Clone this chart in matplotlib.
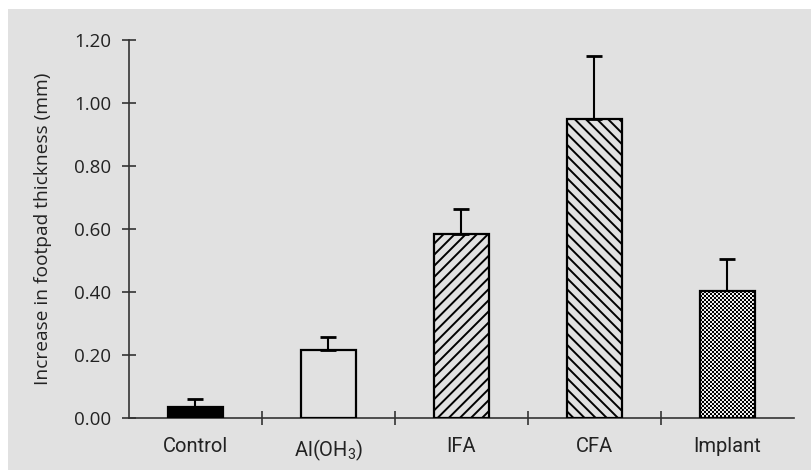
import matplotlib
matplotlib.use('Agg')
import matplotlib.pyplot as plt
import numpy as np
from matplotlib.patches import Rectangle

categories = ['Control', 'Al(OH$_3$)', 'IFA', 'CFA', 'Implant']
means = [0.035, 0.215, 0.585, 0.950, 0.403]
errors = [0.025, 0.042, 0.078, 0.198, 0.102]
yticks = [0.0, 0.2, 0.4, 0.6, 0.8, 1.0, 1.2]
ylabel = 'Increase in footpad thickness (mm)'

plt.rcParams['font.family'] = ['Open Sans', 'DejaVu Sans']
plt.rcParams['mathtext.fontset'] = 'custom'
plt.rcParams['mathtext.rm'] = 'Roboto'
plt.rcParams['mathtext.it'] = 'Roboto'
plt.rcParams['mathtext.default'] = 'rm'
plt.rcParams['hatch.linewidth'] = 1.4

fig = plt.figure(figsize=(8.12, 4.70), dpi=100)
fig.patch.set_facecolor('white')
bg = Rectangle((8/812, 0), 1 - 8/812, 1 - 9/470, transform=fig.transFigure,
               facecolor='#e1e1e1', edgecolor='none', zorder=-10)
fig.add_artist(bg)
ax = fig.add_axes([129/812, 1 - 418/470, 665/812, (418 - 40)/470])
ax.set_zorder(1)
ax.set_facecolor('none')

x = np.arange(len(categories))
faces = ['black', 'none', 'none', 'none', 'none']
hatches = [None, None, '///', '\\\\\\', None]
bars = ax.bar(x, means, width=0.42, color=faces, edgecolor='black', linewidth=1.6, zorder=3)
for b, h in zip(bars, hatches):
    if h:
        b.set_hatch(h)
ax.errorbar(x, means, yerr=[np.zeros(len(errors)), errors], fmt='none', ecolor='black',
            elinewidth=1.5, capsize=5.5, capthick=2, zorder=2)

ax.set_xlim(-0.5, len(categories) - 0.5)
ax.set_ylim(0, 1.2)

# checkerboard fill for the Implant bar (2-px cells)
fig.canvas.draw()
b = bars[4]
x0, w, hgt = b.get_x(), b.get_width(), b.get_height()
p0 = ax.transData.transform((x0, 0))
p1 = ax.transData.transform((x0 + w, hgt))
wpx = int(round(abs(p1[0] - p0[0])))
hpx = int(round(abs(p1[1] - p0[1])))
yy, xx = np.indices((hpx, wpx))
board = np.where(((xx // 2 + yy // 2) % 2) == 1, 0.93, 0.0)
im = ax.imshow(board, extent=(x0, x0 + w, 0, hgt), cmap='gray', vmin=0, vmax=1,
               interpolation='nearest', aspect='auto', zorder=2.5)
im.set_clip_path(b)
ax.set_xlim(-0.5, len(categories) - 0.5)
ax.set_ylim(0, 1.2)

for s in ['top', 'right']:
    ax.spines[s].set_visible(False)
for s in ['left', 'bottom']:
    ax.spines[s].set_linewidth(1.2)
    ax.spines[s].set_color('#333333')

ax.set_yticks(yticks)
ax.set_yticklabels([f'{v:.2f}' for v in yticks], fontsize=13.5, color='#222222')
ax.tick_params(axis='y', direction='inout', length=10, width=1.2, pad=8, color='#333333')

ax.set_xticks(x)
ax.set_xticklabels(categories, fontsize=14.5, color='#222222', family=['Roboto', 'DejaVu Sans'])
ax.tick_params(axis='x', which='major', length=0, pad=14)
ax.set_xticks(x[:-1] + 0.5, minor=True)
ax.tick_params(axis='x', which='minor', direction='inout', length=10, width=1.2, color='#333333')

ax.set_ylabel(ylabel, fontsize=13.8, color='#222222')
ax.yaxis.set_label_coords(-0.116, 0.5)

fig.savefig('out.png', dpi=100)
